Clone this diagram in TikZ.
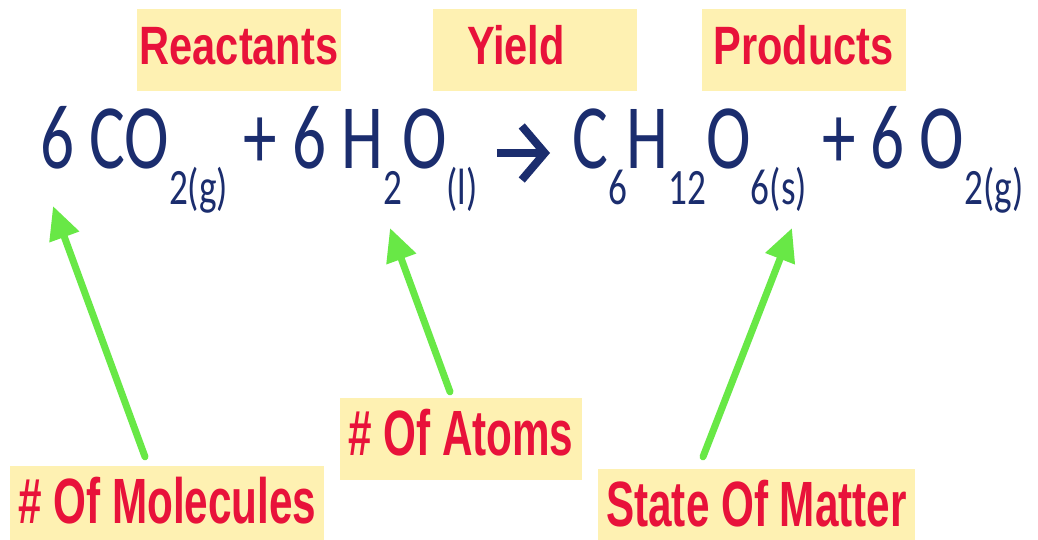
\documentclass[tikz,border=0pt]{standalone}
\usepackage{fontspec}
\usetikzlibrary{arrows.meta}

\newfontfamily\eqfont[FakeStretch=0.73]{Carlito}
\newfontfamily\tagfont[FakeStretch=0.77]{Liberation Sans}
\newfontfamily\lowtagfont[FakeStretch=0.66]{Liberation Sans}

\definecolor{eqblue}{RGB}{27,45,110}
\definecolor{tagred}{RGB}{232,18,58}
\definecolor{tagyellow}{RGB}{254,241,178}
\definecolor{pointergreen}{RGB}{104,232,70}

\newcommand{\eqsub}[1]{\raisebox{-36pt}{\fontsize{51}{51}\selectfont #1}}

\tikzstyle{headtag} = [
rectangle,
minimum width=204pt,
minimum height=82pt,
inner sep=0pt,
text height=38pt,
text depth=10pt,
fill=tagyellow,
text=tagred,
font=\tagfont\bfseries\fontsize{54}{54}\selectfont
]
\tikzstyle{lowtag} = [
rectangle,
minimum height=82pt,
inner xsep=8pt,
inner ysep=0pt,
text height=46pt,
text depth=13pt,
fill=tagyellow,
text=tagred,
font=\lowtagfont\bfseries\fontsize{64}{64}\selectfont
]
\tikzstyle{equation} = [
inner sep=0pt,
anchor=base west,
text=eqblue,
font=\eqfont\fontsize{92}{96}\selectfont
]
\tikzstyle{yieldarrow} = [
draw=eqblue,
line width=8pt,
-{Straight Barb[length=23pt,width=54pt]}
]
\tikzstyle{pointer} = [
draw=pointergreen,
line width=7pt,
line cap=round,
-{Triangle[length=33pt,width=30pt]}
]

\begin{document}
\begin{tikzpicture}[
x=1pt,
y=-1pt
]
\fill[white] (0,0) rectangle (1038,539);
\useasboundingbox (0,0) rectangle (1038,539);

% Nodes
\node (reactants) [headtag] at (239,50) {Reactants};
\node (yieldtag) [headtag] at (535,50) {Yield\hspace*{38pt}};
\node (products) [headtag] at (803.5,50) {Products};

\node (lhs) [equation] at (40,168)
{6 CO\eqsub{2(g)} + 6 H\eqsub{2}O\eqsub{(l)}};
\node (rhs) [equation] at (572,168)
{C\eqsub{6}H\eqsub{12}O\eqsub{6(s)} + 6 O\eqsub{2(g)}};

\node (molecules) [lowtag, anchor=west] at (10,507) {\# Of Molecules};
\node (atoms) [lowtag, anchor=west] at (340,439) {\# Of Atoms};
\node (state) [lowtag, anchor=west] at (598,510) {State Of Matter};

\coordinate (coefpt) at (53,206);
\coordinate (atompt) at (390,228);
\coordinate (statept) at (792,228);

% Arrows
\draw [yieldarrow] ([xshift=19pt,yshift=15pt]lhs.base east)
-- ([xshift=-22pt,yshift=15pt]rhs.base west);
\draw [pointer] ([xshift=135pt,yshift=9pt]molecules.north west) -- (coefpt);
\draw [pointer] ([xshift=110pt,yshift=6pt]atoms.north west) -- (atompt);
\draw [pointer] ([xshift=105pt,yshift=12pt]state.north west) -- (statept);

\end{tikzpicture}
\end{document}
